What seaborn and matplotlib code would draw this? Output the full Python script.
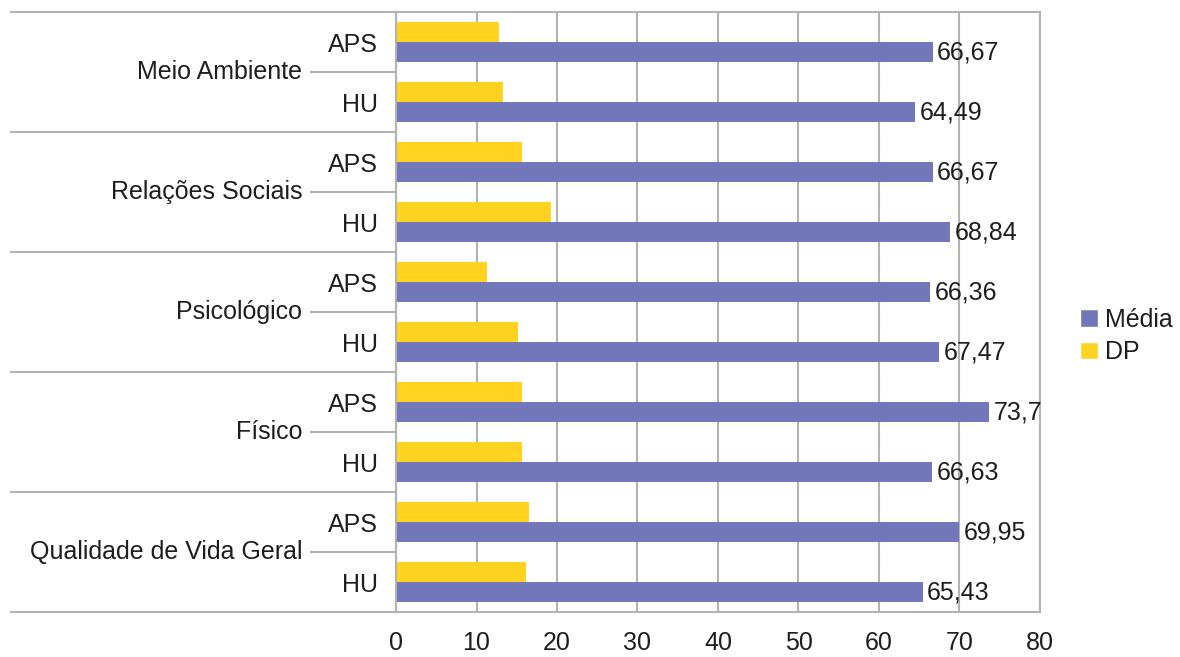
import matplotlib
matplotlib.use("Agg")
import matplotlib.pyplot as plt
import matplotlib.transforms as mtransforms
from matplotlib.patches import Patch
import seaborn as sns
import pandas as pd

groups = ["Meio Ambiente", "Relações Sociais", "Psicológico", "Físico", "Qualidade de Vida Geral"]
subgroups = ["APS", "HU"]
media = [66.67, 64.49, 66.67, 68.84, 66.36, 67.47, 73.7, 66.63, 69.95, 65.43]
dp = [12.8, 13.3, 15.7, 19.2, 11.3, 15.2, 15.7, 15.7, 16.5, 16.2]
media_labels = ["66,67", "64,49", "66,67", "68,84", "66,36", "67,47", "73,7", "66,63", "69,95", "65,43"]
xticks = [0, 10, 20, 30, 40, 50, 60, 70, 80]

BLUE = "#7277b9"
YELLOW = "#ffd320"
GRID = "#b3b3b3"
TXT = "#1e1e1e"

sns.set_style("white")
plt.rcParams["font.family"] = ["Liberation Sans", "DejaVu Sans"]

slots = [f"{g}|{s}" for g in groups for s in subgroups]
rows = []
for i, slot in enumerate(slots):
    rows.append({"slot": slot, "serie": "DP", "valor": dp[i]})
    rows.append({"slot": slot, "serie": "Média", "valor": media[i]})
df = pd.DataFrame(rows)

fig = plt.figure(figsize=(11.8, 6.57), dpi=100)
ax = fig.add_axes([396 / 1180, 1 - 612 / 657, (1040 - 396) / 1180, 600 / 657])

sns.barplot(data=df, y="slot", x="valor", hue="serie", order=slots,
            hue_order=["DP", "Média"], palette={"DP": YELLOW, "Média": BLUE},
            width=0.667, orient="h", ax=ax, legend=False, saturation=1,
            edgecolor="none", linewidth=0)

ax.set_xlim(0, 80)
ax.set_ylim(9.5, -0.5)
ax.set_xticks(xticks)
ax.set_xticklabels([str(t) for t in xticks], fontsize=18, color=TXT)
ax.set_yticks(range(len(slots)))
ax.set_yticklabels([s.split("|")[1] for s in slots], fontsize=18, color=TXT)
ax.tick_params(axis="y", length=0, pad=13)
ax.tick_params(axis="x", length=10, width=1.5, color=GRID, direction="out", pad=4)
ax.set_xlabel("")
ax.set_ylabel("")
ax.grid(axis="x", color=GRID, linewidth=1.5)
ax.set_axisbelow(True)
for side in ["left", "top", "bottom", "right"]:
    ax.spines[side].set_visible(True)
    ax.spines[side].set_color(GRID)
    ax.spines[side].set_linewidth(1.5)

# value labels on Média bars
media_container = ax.containers[1]
ax.bar_label(media_container, labels=media_labels, padding=3, fontsize=18, color=TXT)

# hierarchical category lines and group labels
trans = mtransforms.blended_transform_factory(ax.transAxes, ax.transData)
x_far = (10 - 396) / 644
x_near = (310 - 396) / 644
for k in range(len(groups) + 1):
    y = -0.5 + 2 * k
    ax.plot([x_far, 0], [y, y], transform=trans, color=GRID, linewidth=1.5,
            clip_on=False, solid_capstyle="butt")
for k, g in enumerate(groups):
    y = 0.5 + 2 * k
    ax.plot([x_near, 0], [y, y], transform=trans, color=GRID, linewidth=1.5,
            clip_on=False, solid_capstyle="butt")
    ax.text(x_near - 0.012, y, g, transform=trans, ha="right", va="center",
            fontsize=18, color=TXT)

handles = [Patch(facecolor=BLUE, label="Média"), Patch(facecolor=YELLOW, label="DP")]
fig.legend(handles=handles, loc="center left", bbox_to_anchor=(1080 / 1180, 1 - 336 / 657),
           frameon=False, fontsize=18, handlelength=0.7, handleheight=0.7,
           handletextpad=0.3, labelspacing=0.35, labelcolor=TXT, borderaxespad=0,
           borderpad=0)

fig.savefig("out.png", dpi=100, facecolor="white")
